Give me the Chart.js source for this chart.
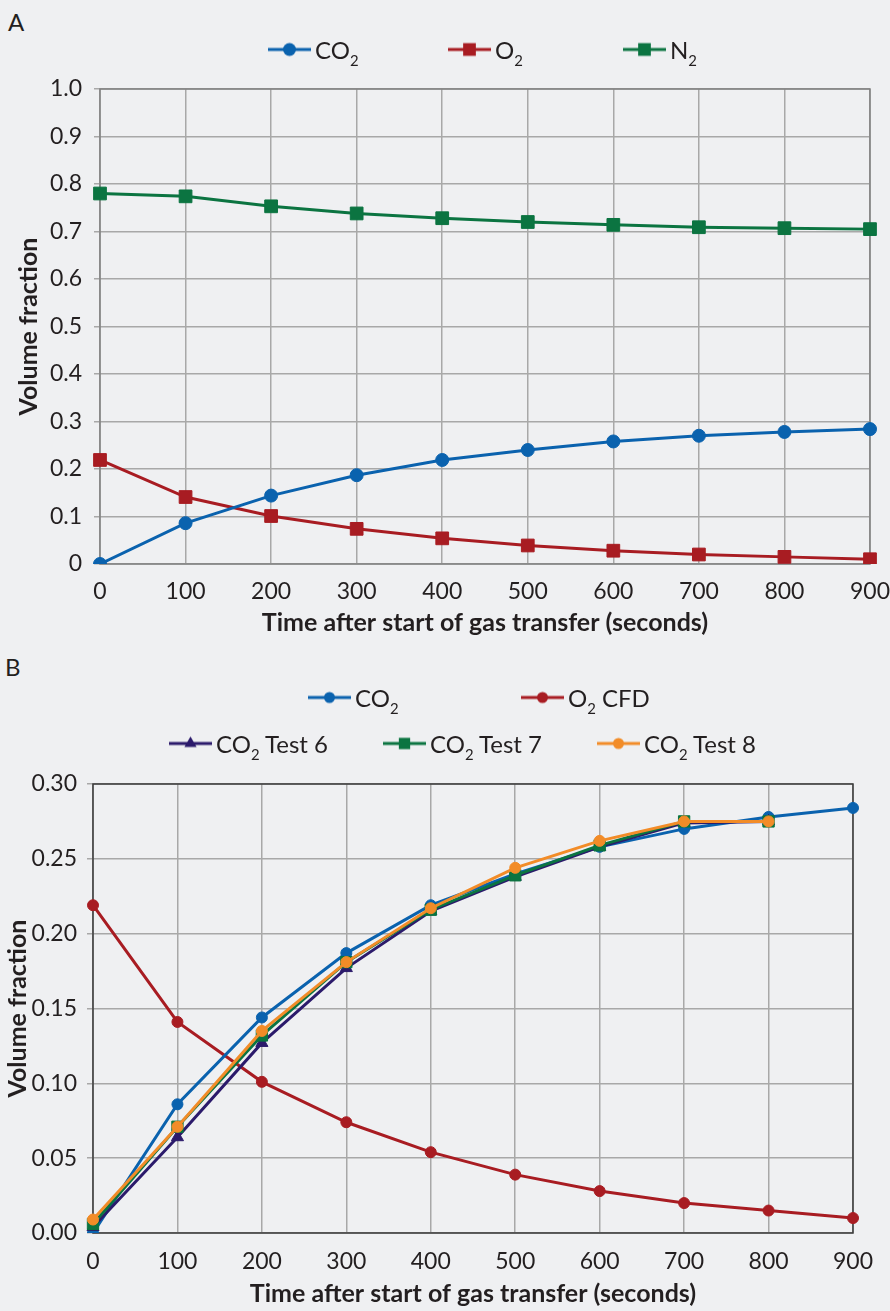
<!DOCTYPE html>
<html>
<head>
<meta charset="utf-8">
<title>Gas transfer volume fractions</title>
<script src="https://cdn.jsdelivr.net/npm/chart.js@4.4.1/dist/chart.umd.min.js"></script>
<style>
    body { margin: 0; background: #eff0f2; font-family: Lato, "Open Sans", sans-serif; color: #231f20; }
    #page { position: relative; width: 890px; height: 1311px; overflow: hidden; }
    .panel { position: absolute; left: 0; width: 890px; }
    .tag { position: absolute; font-size: 24px; }
    .legend-item { position: absolute; display: flex; align-items: center; font-size: 24px; white-space: nowrap; transform: translateY(-50%); }
    .legend-item canvas { margin-right: 4px; }
    sub { font-size: 0.62em; vertical-align: -0.5em; line-height: 0; }
    canvas.chart { position: absolute; left: 0; top: 0; }
</style>
</head>
<body>
<div id="page">
    <div class="panel" id="panelA" style="top:0;height:640px;">
        <div class="tag" style="left:8px;top:7px;">A</div>
        <canvas class="chart" id="chartA" width="890" height="640"></canvas>
    </div>
    <div class="panel" id="panelB" style="top:640px;height:671px;">
        <div class="tag" style="left:5px;top:12px;">B</div>
        <canvas class="chart" id="chartB" width="890" height="671"></canvas>
    </div>
</div>
<script>
// Data
const times = [0, 100, 200, 300, 400, 500, 600, 700, 800, 900];
const co2 = [0, 0.086, 0.144, 0.187, 0.219, 0.240, 0.258, 0.270, 0.278, 0.284];
const o2 = [0.219, 0.141, 0.101, 0.074, 0.054, 0.039, 0.028, 0.020, 0.015, 0.010];
const n2 = [0.780, 0.774, 0.753, 0.738, 0.728, 0.720, 0.714, 0.709, 0.707, 0.705];
const co2Test6 = [0.004, 0.064, 0.127, 0.177, 0.215, 0.238, 0.258, 0.274, 0.275];
const co2Test7 = [0.006, 0.071, 0.132, 0.181, 0.216, 0.239, 0.259, 0.275, 0.275];
const co2Test8 = [0.009, 0.071, 0.135, 0.181, 0.217, 0.244, 0.262, 0.275, 0.275];
const yTicksA = ['0', '0.1', '0.2', '0.3', '0.4', '0.5', '0.6', '0.7', '0.8', '0.9', '1.0'];
const yTicksB = ['0.00', '0.05', '0.10', '0.15', '0.20', '0.25', '0.30'];

const xTitle = 'Time after start of gas transfer (seconds)';
const yTitle = 'Volume fraction';

// Colours
const BLUE = '#0a62ae';
const RED = '#a81c22';
const GREEN = '#0b7441';
const PURPLE = '#2b1a6b';
const ORANGE = '#f28c28';
const TEXT = '#231f20';
const GRID = '#a8a8a8';

Chart.defaults.font.family = 'Lato, "Open Sans", sans-serif';
Chart.defaults.color = TEXT;

function series(label, data, color, style, radius, width, order) {
    return {
        label: label,
        data: data,
        borderColor: color,
        backgroundColor: color,
        borderWidth: width,
        pointStyle: style,
        pointRadius: radius,
        pointHoverRadius: radius,
        pointBackgroundColor: color,
        pointBorderColor: color,
        pointBorderWidth: 1,
        tension: 0,
        fill: false,
        order: order
    };
}

// frame round the plot area
const plotFrame = {
    id: 'plotFrame',
    beforeDatasetsDraw(chart, args, opts) {
        const a = chart.chartArea;
        const ctx = chart.ctx;
        ctx.save();
        ctx.strokeStyle = opts.color;
        ctx.lineWidth = 1.5;
        ctx.strokeRect(a.left, a.top, a.right - a.left, a.bottom - a.top);
        ctx.restore();
    }
};

function makeOptions(cfg) {
    return {
        responsive: false,
        animation: false,
        devicePixelRatio: 1,
        layout: { padding: cfg.padding },
        plugins: {
            legend: { display: false },
            tooltip: { enabled: false },
            plotFrame: { color: cfg.frame }
        },
        scales: {
            x: {
                grid: { color: GRID, lineWidth: 1.5, drawTicks: false },
                border: { display: false },
                ticks: { font: { size: 23 }, color: TEXT, padding: cfg.xTickPad, maxRotation: 0 },
                title: { display: true, text: xTitle, font: { size: 25, weight: 'bold' }, color: TEXT, padding: { top: 0, bottom: cfg.xTitlePad } },
                afterFit: scale => {
                    scale.height = cfg.xHeight;
                    // let the last label run into the page margin like the original
                    scale.paddingLeft = 0;
                    scale.paddingRight = 0;
                }
            },
            y: {
                min: 0,
                max: cfg.yMax,
                grid: { color: GRID, lineWidth: 1.5, tickLength: 6 },
                border: { display: false },
                ticks: {
                    stepSize: cfg.yStep,
                    font: { size: 23 },
                    color: TEXT,
                    padding: cfg.yTickPad,
                    callback: (v, i) => cfg.yTicks[i]
                },
                title: { display: true, text: yTitle, font: { size: 25, weight: 'bold' }, color: TEXT, padding: { top: cfg.yTitlePad, bottom: 0 } },
                afterFit: scale => { scale.width = cfg.yWidth; }
            }
        }
    };
}

// legend icons: short line with marker in the middle
function drawMarker(ctx, style, r, x, y) {
    ctx.beginPath();
    if (style === 'circle') {
        ctx.arc(x, y, r, 0, Math.PI * 2);
    } else if (style === 'rect') {
        const s = r * Math.SQRT1_2;
        ctx.rect(x - s, y - s, s * 2, s * 2);
    } else if (style === 'triangle') {
        ctx.moveTo(x, y - r);
        ctx.lineTo(x + r * 0.87, y + r * 0.5);
        ctx.lineTo(x - r * 0.87, y + r * 0.5);
        ctx.closePath();
    }
    ctx.fill();
}

function legendIcon(ds, w) {
    const c = document.createElement('canvas');
    c.width = w;
    c.height = 22;
    const ctx = c.getContext('2d');
    ctx.strokeStyle = ds.borderColor;
    ctx.fillStyle = ds.borderColor;
    ctx.lineWidth = ds.borderWidth;
    ctx.beginPath();
    ctx.moveTo(0, 11);
    ctx.lineTo(w, 11);
    ctx.stroke();
    drawMarker(ctx, ds.pointStyle, ds.pointRadius, w / 2, 11);
    return c;
}

function buildLegend(panelId, datasets, spots, iconWidth) {
    const panel = document.getElementById(panelId);
    datasets.forEach((ds, i) => {
        const item = document.createElement('div');
        item.className = 'legend-item';
        item.style.left = spots[i][0] + 'px';
        item.style.top = spots[i][1] + 'px';
        item.appendChild(legendIcon(ds, iconWidth));
        const span = document.createElement('span');
        span.innerHTML = ds.label.replace('\u2082', '<sub>2</sub>');
        item.appendChild(span);
        panel.appendChild(item);
    });
}

// Chart A
const dataA = [
    series('CO\u2082', co2, BLUE, 'circle', 6.5, 3, 0),
    series('O\u2082', o2, RED, 'rect', 9, 3, 1),
    series('N\u2082', n2, GREEN, 'rect', 9, 3, 2)
];

new Chart(document.getElementById('chartA'), {
    type: 'line',
    data: { labels: times, datasets: dataA },
    options: makeOptions({
        padding: { top: 89, right: 20, left: 0, bottom: 0 },
        frame: '#808080',
        yMax: 1, yStep: 0.1, yTicks: yTicksA,
        xHeight: 76, yWidth: 100,
        xTickPad: 14, xTitlePad: 2, yTickPad: 12, yTitlePad: 14
    }),
    plugins: [plotFrame]
});
buildLegend('panelA', dataA, [[268, 49], [448, 49], [623, 49]], 43);

// Chart B
const dataB = [
    series('CO\u2082', co2, BLUE, 'circle', 5.5, 3, 3),
    series('O\u2082 CFD', o2, RED, 'circle', 5.5, 3, 4),
    series('CO\u2082 Test 6', co2Test6, PURPLE, 'triangle', 7, 3, 2),
    series('CO\u2082 Test 7', co2Test7, GREEN, 'rect', 8, 3, 1),
    series('CO\u2082 Test 8', co2Test8, ORANGE, 'circle', 5.5, 3, 0)
];

new Chart(document.getElementById('chartB'), {
    type: 'line',
    data: { labels: times, datasets: dataB },
    options: makeOptions({
        padding: { top: 144, right: 37, left: 0, bottom: 0 },
        frame: '#3a3a3a',
        yMax: 0.3, yStep: 0.05, yTicks: yTicksB,
        xHeight: 78, yWidth: 93,
        xTickPad: 15, xTitlePad: 2, yTickPad: 10, yTitlePad: 3
    }),
    plugins: [plotFrame]
});
buildLegend('panelB', dataB, [[308, 57], [521, 57], [169, 103], [383, 103], [597, 103]], 43);
</script>
</body>
</html>
